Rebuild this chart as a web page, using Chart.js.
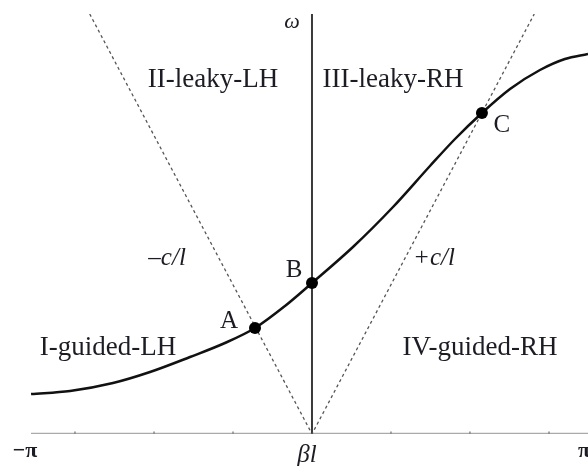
<!DOCTYPE html>
<html>
<head>
<meta charset="utf-8">
<script src="https://cdn.jsdelivr.net/npm/chart.js@4"></script>
<style>
  html, body { margin: 0; padding: 0; background: #fff; }
  #wrap { width: 588px; height: 466px; }
</style>
</head>
<body>
<div id="wrap"><canvas id="dispersion" width="588" height="466"></canvas></div>
<script>
// Dispersionskurve (βl, ω)
const betaL = [-3.141, -2.705, -2.225, -1.811, -1.364, -0.973, -0.637, -0.302, 0, 0.458, 0.906, 1.319, 1.599, 1.900, 2.214, 2.549, 2.828, 3.086];
const omega = [0.40, 0.43, 0.51, 0.62, 0.77, 0.91, 1.06, 1.28, 1.51, 1.87, 2.27, 2.68, 2.95, 3.21, 3.45, 3.64, 3.75, 3.80];

// Lichtlinien ±c/l
const lichtX = [-2.485, 0, 2.485];
const lichtY = [4.2, 0, 4.2];

// markierte Punkte A, B, C
const punktNamen = ['A', 'B', 'C'];
const punktX = [-0.637, 0, 1.900];
const punktY = [1.06, 1.51, 3.21];

// kleine Teilstriche auf der βl-Achse
const teilstriche = [-2.65, -1.766, -0.883, 0.883, 1.766, 2.65];

// Bereichsnamen
const bereiche = ['II-leaky-LH', 'III-leaky-RH', 'I-guided-LH', 'IV-guided-RH'];
const bereichX = [-1.107, 0.906, -2.28, 1.878];
const bereichY = [3.47, 3.47, 0.79, 0.79];

const xMin = -Math.PI, xMax = 3.086;
const yMin = 0, yMax = 4.2;

const serif = '"Liberation Serif", "Times New Roman", serif';
const textFarbe = '#1c1c24';

const zip = (xs, ys) => xs.map((x, i) => ({ x: x, y: ys[i] }));

// Beschriftungen direkt auf die Zeichenfläche
const beschriftung = {
  id: 'beschriftung',
  afterDraw(chart) {
    const ctx = chart.ctx;
    const sx = chart.scales.x, sy = chart.scales.y;
    const px = v => sx.getPixelForValue(v);
    const py = v => sy.getPixelForValue(v);
    ctx.save();
    ctx.fillStyle = textFarbe;
    ctx.textBaseline = 'alphabetic';
    ctx.textAlign = 'center';

    ctx.font = '27px ' + serif;
    bereiche.forEach((t, i) => ctx.fillText(t, px(bereichX[i]), py(bereichY[i])));

    // Punktnamen
    ctx.font = '25px ' + serif;
    ctx.fillText(punktNamen[0], px(punktX[0]) - 26, py(punktY[0]));
    ctx.fillText(punktNamen[1], px(punktX[1]) - 18, py(punktY[1]) - 6);
    ctx.fillText(punktNamen[2], px(punktX[2]) + 20, py(punktY[2]) + 19);

    // Steigungen
    ctx.font = 'italic 25px ' + serif;
    ctx.fillText('\u2013c/l', px(-1.62), py(1.69));
    ctx.fillText('+c/l', px(1.364), py(1.69));

    // Achsenbeschriftungen
    ctx.font = 'italic 22px ' + serif;
    ctx.textBaseline = 'middle';
    ctx.fillText('\u03c9', px(0) - 20, py(yMax) + 8);
    ctx.font = 'italic 25px ' + serif;
    ctx.fillText('\u03b2l', px(0) - 5, py(0) + 21);
    ctx.font = 'bold 22px ' + serif;
    ctx.fillText('\u2212\u03c0', px(xMin) - 6, py(0) + 17);
    ctx.fillText('\u03c0', px(xMax) - 4, py(0) + 17);
    ctx.restore();
  }
};

new Chart(document.getElementById('dispersion'), {
  type: 'scatter',
  data: {
    datasets: [
      {
        data: zip(punktX, punktY),
        pointRadius: 6,
        pointBackgroundColor: '#000',
        pointBorderWidth: 0,
        showLine: false
      },
      {
        data: zip(betaL, omega),
        showLine: true,
        cubicInterpolationMode: 'monotone',
        borderColor: '#111',
        borderWidth: 2.5,
        pointRadius: 0
      },
      {
        data: zip(lichtX, lichtY),
        showLine: true,
        borderColor: '#555',
        borderWidth: 1.3,
        borderDash: [3, 3],
        pointRadius: 0
      },
      {
        // ω-Achse
        data: [{ x: 0, y: yMin }, { x: 0, y: yMax }],
        showLine: true,
        borderColor: '#3a3a3a',
        borderWidth: 2,
        pointRadius: 0
      },
      {
        data: teilstriche.map(x => ({ x: x, y: 0 })),
        showLine: false,
        pointStyle: 'line',
        rotation: 90,
        pointRadius: 2.5,
        pointBorderColor: '#888',
        pointBorderWidth: 1.5
      },
      {
        // βl-Achse
        data: [{ x: xMin, y: 0 }, { x: xMax, y: 0 }],
        showLine: true,
        borderColor: '#aaa',
        borderWidth: 2.5,
        pointRadius: 0
      }
    ]
  },
  options: {
    responsive: false,
    animation: false,
    layout: { autoPadding: false, padding: { left: 31, right: 0, top: 14, bottom: 32 } },
    plugins: { legend: { display: false }, tooltip: { enabled: false } },
    scales: {
      x: { type: 'linear', min: xMin, max: xMax, display: false },
      y: { type: 'linear', min: yMin, max: yMax, display: false }
    }
  },
  plugins: [beschriftung]
});
</script>
</body>
</html>
